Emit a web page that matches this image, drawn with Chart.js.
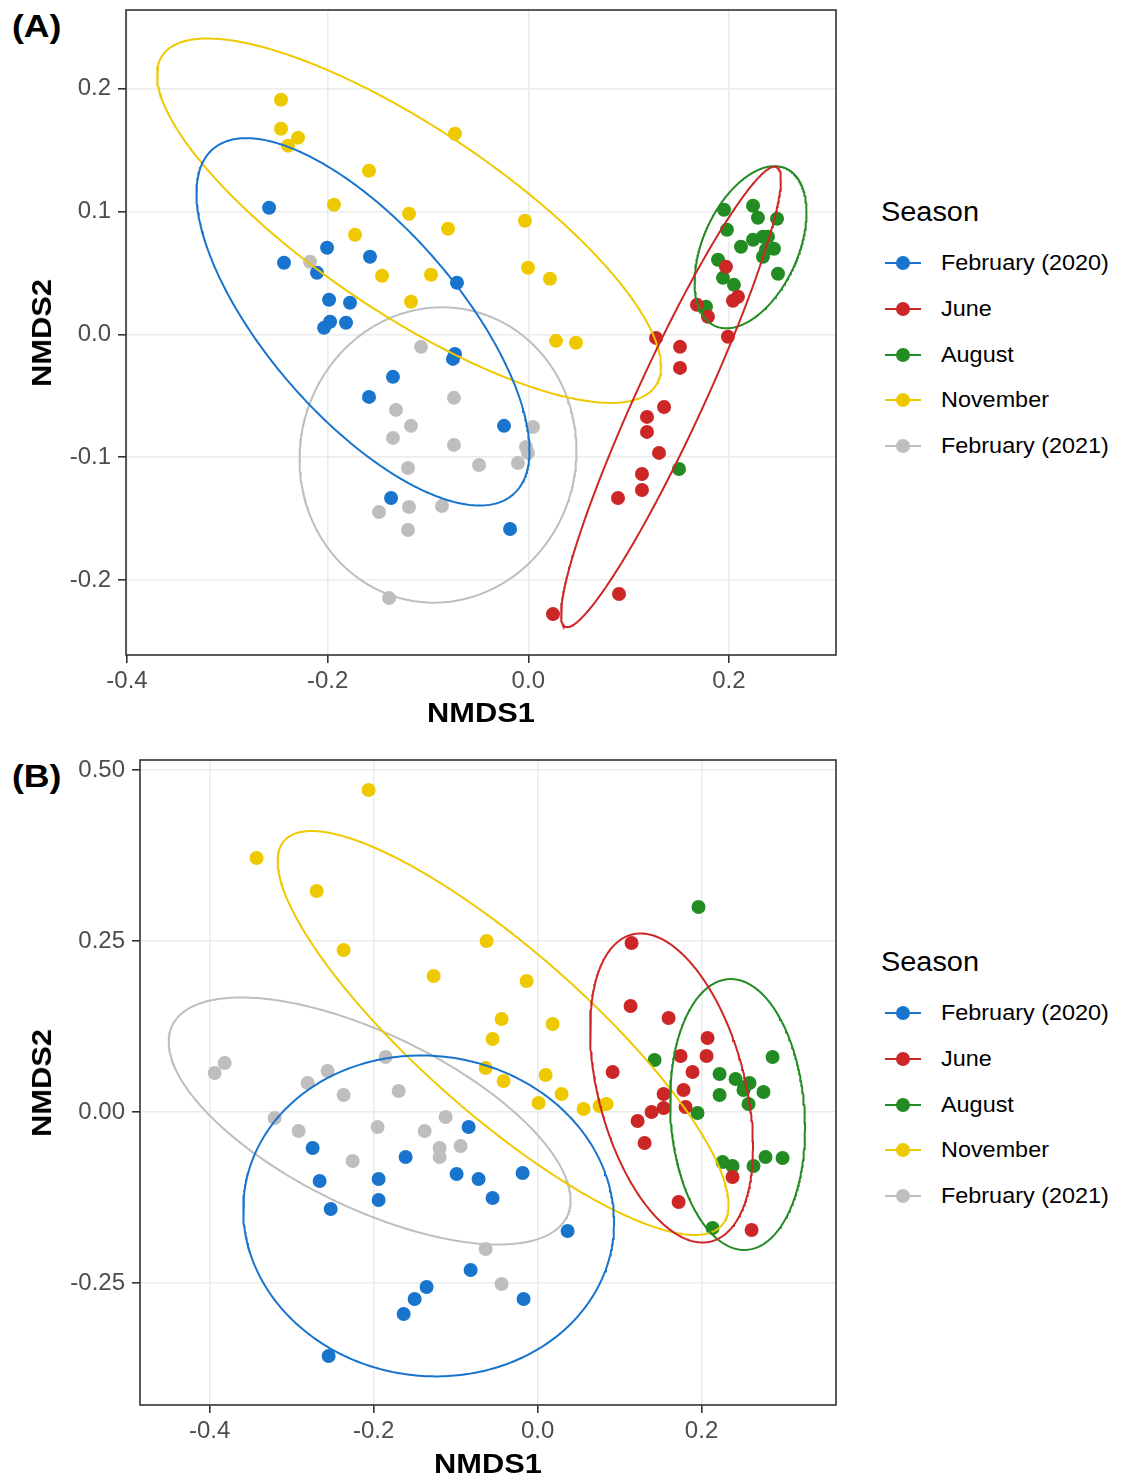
<!DOCTYPE html>
<html>
<head>
<meta charset="utf-8">
<script src="https://cdn.jsdelivr.net/npm/chart.js@4.4.0/dist/chart.umd.min.js"></script>
<style>
body { margin: 0; background: #fff; width: 1128px; height: 1479px; position: relative; overflow: hidden;
       font-family: "Liberation Sans", Arial, sans-serif; }
.panel { position: absolute; left: 0; }
.tag { position: absolute; left: 12px; font-weight: bold; font-size: 31px; line-height: 1; color: #000;
       transform: translateY(-50%) scaleX(1.15); transform-origin: left center; }
.ytitle { position: absolute; font-weight: bold; font-size: 28px; line-height: 1; white-space: nowrap;
          transform: translate(-50%, -50%) rotate(-90deg) scaleX(1.1); }
.xtitle { position: absolute; font-weight: bold; font-size: 28px; line-height: 1; white-space: nowrap;
          transform: translate(-50%, -50%) scaleX(1.1); }
.legend { position: absolute; left: 881px; }
.legend .ttl { position: absolute; left: 0; font-size: 27px; line-height: 1; white-space: nowrap;
               transform: translateY(-50%) scaleX(1.07); transform-origin: left center; }
.legend .item { position: absolute; left: 4px; width: 240px; height: 0; }
.legend .key { position: absolute; left: 0; top: -1px; width: 36px; height: 2px; }
.legend .dot { position: absolute; left: 11px; top: -7px; width: 14px; height: 14px; border-radius: 50%; }
.legend .lbl { position: absolute; left: 56px; top: 0; font-size: 22.5px; line-height: 1; white-space: nowrap;
               transform: translateY(-50%) scaleX(1.04); transform-origin: left center; }
</style>
</head>
<body>
<div class="tag" style="top:26px">(A)</div>
<div class="tag" style="top:776px">(B)</div>

<canvas id="chartA" class="panel" style="top:0" width="860" height="740"></canvas>
<canvas id="chartB" class="panel" style="top:750px" width="860" height="729"></canvas>

<div class="ytitle" style="left:42px; top:333px">NMDS2</div>
<div class="xtitle" style="left:481px; top:713px">NMDS1</div>
<div class="ytitle" style="left:42px; top:1083px">NMDS2</div>
<div class="xtitle" style="left:488px; top:1464px">NMDS1</div>

<div class="legend" id="legendA" style="top:212px"></div>
<div class="legend" id="legendB" style="top:962px"></div>

<script>
const seasons = ['February (2020)', 'June', 'August', 'November', 'February (2021)'];
const colors = ['#1874CD', '#CD2626', '#228B22', '#EEC900', '#BEBEBE'];

// panel A site scores [NMDS1, NMDS2]
const aFeb20 = [[-0.2584,0.1031],[-0.2435,0.0583],[-0.2006,0.0705],[-0.2106,0.0501],[-0.1986,0.0281],[-0.1777,0.0257],
  [-0.1976,0.0102],[-0.2036,0.0053],[-0.1817,0.0094],[-0.1578,0.0631],[-0.0711,0.0420],[-0.0731,-0.0159],
  [-0.0751,-0.0200],[-0.1349,-0.0346],[-0.1588,-0.0509],[-0.0242,-0.0745],[-0.1368,-0.1332],[-0.0182,-0.1585]];
const aJun = [[0.1970,0.0550],[0.2090,0.0306],[0.2040,0.0273],[0.1681,0.0240],[0.1791,0.0143],[0.1273,-0.0029],
  [0.1990,-0.0020],[0.1512,-0.0102],[0.1512,-0.0273],[0.1353,-0.0591],[0.1183,-0.0672],[0.1183,-0.0794],
  [0.1303,-0.0965],[0.1133,-0.1137],[0.1133,-0.1267],[0.0894,-0.1332],[0.0904,-0.2114],[0.0246,-0.2277]];
const aAug = [[0.1951,0.1014],[0.2240,0.1047],[0.2289,0.0949],[0.2479,0.0941],[0.1980,0.0851],[0.2120,0.0713],
  [0.2240,0.0770],[0.2339,0.0794],[0.2389,0.0794],[0.2449,0.0697],[0.2339,0.0631],[0.1891,0.0607],
  [0.1940,0.0460],[0.2050,0.0403],[0.2489,0.0493],[0.1771,0.0224],[0.1502,-0.1096],[0.2369,0.0688]];
const aNov = [[-0.2465,0.1910],[-0.2465,0.1674],[-0.2295,0.1601],[-0.2395,0.1536],[-0.0731,0.1633],[-0.1588,0.1332],
  [-0.1937,0.1055],[-0.1189,0.0982],[-0.0800,0.0860],[-0.0033,0.0925],[-0.1727,0.0811],[-0.1458,0.0477],
  [-0.0970,0.0485],[-0.0003,0.0542],[0.0216,0.0452],[-0.1169,0.0265],[0.0276,-0.0053],[0.0475,-0.0069]];
const aFeb21 = [[-0.2176,0.0591],[-0.1069,-0.0102],[-0.1319,-0.0615],[-0.1169,-0.0745],[-0.1349,-0.0843],[-0.0741,-0.0517],
  [-0.0741,-0.0900],[-0.1199,-0.1088],[-0.0491,-0.1063],[0.0047,-0.0754],[-0.0023,-0.0917],[-0.0003,-0.0965],
  [-0.0103,-0.1047],[-0.1488,-0.1446],[-0.1189,-0.1405],[-0.0860,-0.1397],[-0.1199,-0.1593],[-0.1388,-0.2147]];

// panel B site scores
const bFeb20 = [[-0.2744,-0.0526],[-0.2659,-0.1009],[-0.2524,-0.1418],[-0.1939,-0.0980],[-0.1939,-0.1287],[-0.1610,-0.0658],
  [-0.1354,-0.2558],[-0.1500,-0.2734],[-0.1634,-0.2953],[-0.2549,-0.3567],[-0.0841,-0.0219],[-0.0988,-0.0906],
  [-0.0720,-0.0980],[-0.0183,-0.0892],[-0.0549,-0.1257],[0.0366,-0.1740],[-0.0817,-0.2310],[-0.0171,-0.2734]];
const bJun = [[0.1146,0.2471],[0.1134,0.1550],[0.1598,0.1374],[0.2073,0.1082],[0.1744,0.0819],[0.2061,0.0819],
  [0.1890,0.0585],[0.0915,0.0585],[0.1780,0.0322],[0.1537,0.0263],[0.1537,0.0058],[0.1805,0.0073],
  [0.1390,0.0000],[0.1220,-0.0132],[0.1305,-0.0453],[0.2378,-0.0950],[0.1720,-0.1316],[0.2610,-0.1725]];
const bAug = [[0.1963,0.2997],[0.1427,0.0760],[0.2220,0.0556],[0.2415,0.0482],[0.2585,0.0424],[0.2512,0.0322],
  [0.2220,0.0249],[0.2756,0.0292],[0.2573,0.0117],[0.2866,0.0804],[0.1951,-0.0015],[0.2256,-0.0731],
  [0.2378,-0.0789],[0.2634,-0.0789],[0.2780,-0.0658],[0.2988,-0.0673],[0.2134,-0.1696],[0.2524,0.0366]];
const bNov = [[-0.3427,0.3713],[-0.2061,0.4708],[-0.2695,0.3231],[-0.2366,0.2368],[-0.1268,0.1988],[-0.0622,0.2500],
  [-0.0134,0.1915],[-0.0439,0.1360],[-0.0549,0.1067],[0.0183,0.1287],[-0.0634,0.0643],[-0.0415,0.0453],
  [0.0098,0.0541],[0.0293,0.0263],[0.0012,0.0132],[0.0561,0.0044],[0.0756,0.0088],[0.0841,0.0117]];
const bFeb21 = [[-0.3817,0.0716],[-0.3939,0.0570],[-0.2805,0.0424],[-0.2561,0.0599],[-0.2366,0.0249],[-0.1854,0.0804],
  [-0.1695,0.0307],[-0.3207,-0.0088],[-0.2915,-0.0278],[-0.1951,-0.0219],[-0.2256,-0.0716],[-0.1378,-0.0278],
  [-0.1122,-0.0073],[-0.1195,-0.0526],[-0.1195,-0.0658],[-0.0939,-0.0497],[-0.0634,-0.2003],[-0.0439,-0.2515]];

// ellipse per season: [centre x, centre y, half width, half height, correlation]
const ellA = [[-0.1648,0.0102,0.1660,0.1495,-0.70],[0.1422,-0.0509,0.1096,0.1874,0.943],[0.2215,0.0709,0.0558,0.0660,0.43],
  [-0.1189,0.0925,0.2512,0.1483,-0.80],[-0.0900,-0.0982,0.1380,0.1202,0.03]];
const ellB = [[-0.1329,-0.1520,0.2262,0.2346,-0.04],[0.1634,0.0351,0.0994,0.2259,-0.38],[0.2439,-0.0037,0.0823,0.1980,-0.10],
  [-0.0421,0.1155,0.2750,0.2953,-0.85],[-0.2049,-0.0132,0.2451,0.1806,-0.64]];

// axis breaks
const xMajorA = [-0.4, -0.2, 0.0, 0.2];
const xMinorA = [-0.3, -0.1, 0.1, 0.3];
const yMajorA = [-0.2, -0.1, 0.0, 0.1, 0.2];
const yMinorA = [-0.25, -0.15, -0.05, 0.05, 0.15, 0.25];
const xMajorB = [-0.4, -0.2, 0.0, 0.2];
const xMinorB = [-0.3, -0.1, 0.1, 0.3];
const yMajorB = [-0.25, 0.0, 0.25, 0.5];
const yMinorB = [-0.375, -0.125, 0.125, 0.375];

function ellipse(e) {
  const [cx, cy, rx, ry, rho] = e;
  const s = Math.sqrt(1 - rho * rho);
  const out = [];
  for (let i = 0; i <= 360; i++) {
    const t = 2 * Math.PI * i / 360;
    out.push({ x: cx + rx * Math.cos(t), y: cy + ry * (rho * Math.cos(t) + s * Math.sin(t)) });
  }
  return out;
}

const frame = {
  id: 'frame',
  afterDatasetsDraw(chart) {
    const a = chart.chartArea, c = chart.ctx;
    c.save();
    c.strokeStyle = '#333333';
    c.lineWidth = 1.6;
    c.strokeRect(a.left, a.top, a.right - a.left, a.bottom - a.top);
    c.restore();
  }
};

function axis(min, max, major, minor, dec, fit, pad) {
  const isMajor = v => major.some(m => Math.abs(m - v) < 1e-9);
  return {
    type: 'linear', min: min, max: max,
    afterBuildTicks: s => { s.ticks = major.concat(minor).sort((a, b) => a - b).map(v => ({ value: v })); },
    afterFit: s => {
      fit(s);
      s.paddingTop = 0; s.paddingBottom = 0; s.paddingLeft = 0; s.paddingRight = 0;
    },
    border: { display: false },
    grid: {
      color: c => isMajor(c.tick.value) ? '#EBEBEB' : '#F2F2F2',
      lineWidth: c => isMajor(c.tick.value) ? 1.6 : 1,
      tickColor: c => isMajor(c.tick.value) ? '#333333' : 'rgba(0,0,0,0)',
      tickWidth: 1.6,
      tickLength: 8
    },
    ticks: {
      autoSkip: false, maxRotation: 0, padding: pad,
      color: '#4D4D4D', font: { family: '"Liberation Sans", Arial, sans-serif', size: 24 },
      callback: v => isMajor(v) ? v.toFixed(dec) : null
    }
  };
}

function makeChart(id, groups, ells, xs, ys, yWidth, xHeight) {
  const datasets = [];
  groups.forEach((g, i) => {
    datasets.push({
      label: seasons[i], data: g.map(p => ({ x: p[0], y: p[1] })),
      pointRadius: 7, pointHoverRadius: 7, borderWidth: 0, pointBorderWidth: 0,
      backgroundColor: colors[i], borderColor: colors[i], order: 1
    });
  });
  ells.forEach((e, i) => {
    datasets.push({
      label: seasons[i] + ' ellipse', data: ellipse(e), showLine: true, pointRadius: 0,
      borderColor: colors[i], borderWidth: 2, fill: false, tension: 0, order: 0
    });
  });
  new Chart(document.getElementById(id), {
    type: 'scatter',
    data: { datasets: datasets },
    options: {
      responsive: false, animation: false, devicePixelRatio: 1,
      layout: { padding: { top: 10, right: 24, left: 0, bottom: 0 } },
      plugins: { legend: { display: false }, tooltip: { enabled: false } },
      scales: {
        x: axis(xs[0], xs[1], xs[2], xs[3], 1, s => { s.height = xHeight; }, 4),
        y: axis(ys[0], ys[1], ys[2], ys[3], ys[4], s => { s.width = yWidth; }, 7)
      }
    },
    plugins: [frame]
  });
}

makeChart('chartA', [aFeb20, aJun, aAug, aNov, aFeb21], ellA,
  [-0.401, 0.3067, xMajorA, xMinorA], [-0.261, 0.264, yMajorA, yMinorA, 1], 126, 85);
makeChart('chartB', [bFeb20, bJun, bAug, bNov, bFeb21], ellB,
  [-0.485, 0.364, xMajorB, xMinorB], [-0.4284, 0.5146, yMajorB, yMinorB, 2], 140, 74);

function legend(id) {
  const box = document.getElementById(id);
  let html = '<div class="ttl" style="top:0">Season</div>';
  seasons.forEach((s, i) => {
    const top = 51 + i * 45.8;
    html += '<div class="item" style="top:' + top + 'px">' +
      '<div class="key" style="background:' + colors[i] + '"></div>' +
      '<div class="dot" style="background:' + colors[i] + '"></div>' +
      '<div class="lbl">' + s + '</div></div>';
  });
  box.innerHTML = html;
}
legend('legendA');
legend('legendB');
</script>
</body>
</html>
